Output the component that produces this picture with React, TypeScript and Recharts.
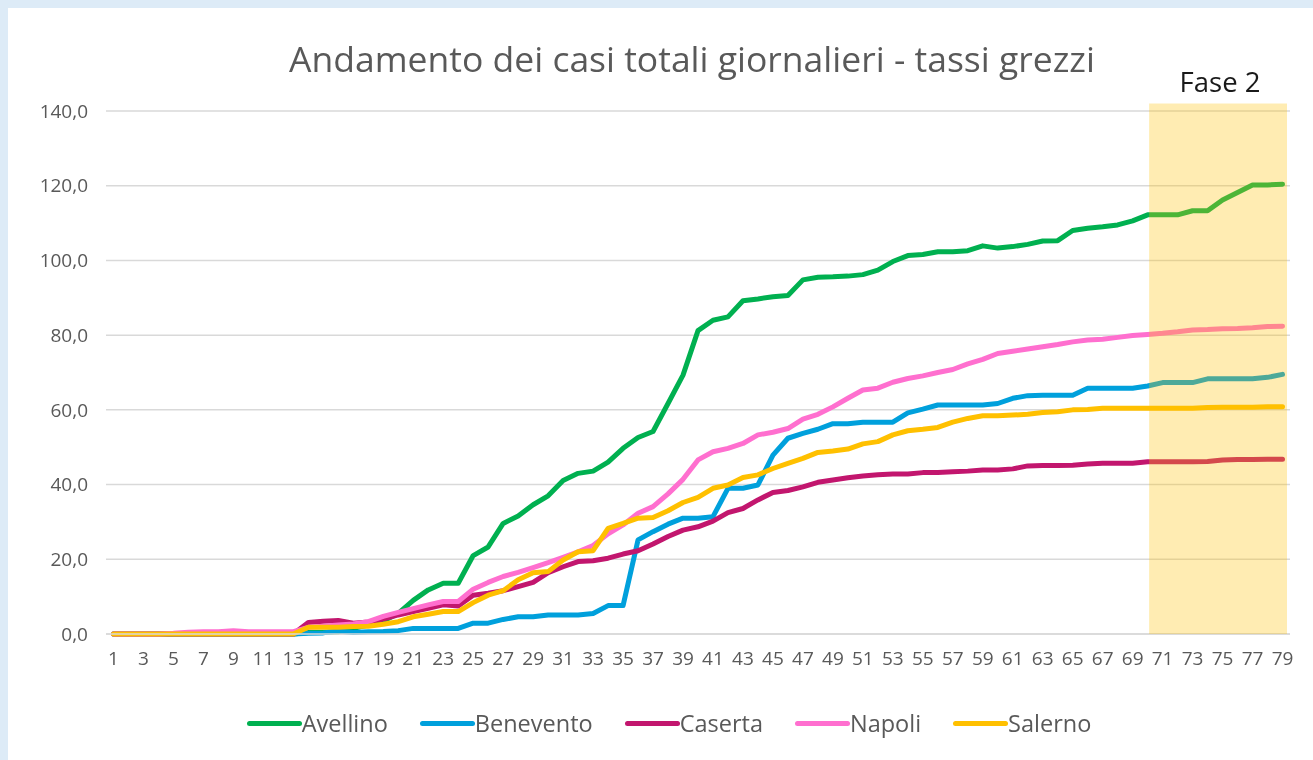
import React from 'react';
import { LineChart, Line, XAxis, YAxis, CartesianGrid, Legend, ReferenceArea } from 'recharts';

const days = [
    1, 2, 3, 4, 5, 6, 7, 8, 9, 10, 11, 12, 13, 14, 15, 16, 17, 18, 19, 20,
    21, 22, 23, 24, 25, 26, 27, 28, 29, 30, 31, 32, 33, 34, 35, 36, 37, 38, 39, 40,
    41, 42, 43, 44, 45, 46, 47, 48, 49, 50, 51, 52, 53, 54, 55, 56, 57, 58, 59, 60,
    61, 62, 63, 64, 65, 66, 67, 68, 69, 70, 71, 72, 73, 74, 75, 76, 77, 78, 79
];

const xTicks = [1, 3, 5, 7, 9, 11, 13, 15, 17, 19, 21, 23, 25, 27, 29, 31, 33, 35, 37, 39,
    41, 43, 45, 47, 49, 51, 53, 55, 57, 59, 61, 63, 65, 67, 69, 71, 73, 75, 77, 79];
const yTicks = [0, 20, 40, 60, 80, 100, 120, 140];

const avellino = [
    0, 0, 0, 0, 0, 0, 0, 0, 0, 0, 0, 0, 0, 0.4, 0.5, 0.6, 1.5, 2.4, 3.5, 5.5,
    9.0, 11.8, 13.6, 13.6, 21.0, 23.3, 29.6, 31.6, 34.6, 37.0, 41.1, 43.0, 43.6, 46.0, 49.7, 52.6, 54.2, 61.7, 69.3, 81.2,
    84.0, 84.9, 89.2, 89.7, 90.3, 90.6, 94.8, 95.5, 95.6, 95.8, 96.2, 97.4, 99.7, 101.3, 101.6, 102.3, 102.3, 102.6, 103.9, 103.3,
    103.7, 104.3, 105.2, 105.3, 108.0, 108.6, 109.0, 109.5, 110.6, 112.2, 112.2, 112.2, 113.3, 113.3, 116.2, 118.2, 120.2, 120.2, 120.4
];

const benevento = [
    0, 0, 0, 0, 0, 0, 0, 0, 0, 0, 0, 0, 0, 0.2, 0.3, 0.8, 0.4, 0.6, 0.7, 0.9,
    1.5, 1.5, 1.5, 1.5, 2.9, 2.9, 3.9, 4.6, 4.6, 5.1, 5.1, 5.1, 5.5, 7.6, 7.6, 25.2, 27.4, 29.4, 31.0, 31.0,
    31.4, 39.0, 39.0, 39.9, 47.9, 52.4, 53.7, 54.8, 56.3, 56.3, 56.7, 56.7, 56.7, 59.2, 60.2, 61.3, 61.3, 61.3, 61.3, 61.7,
    63.1, 63.8, 63.9, 63.9, 63.9, 65.8, 65.8, 65.8, 65.8, 66.4, 67.3, 67.3, 67.3, 68.3, 68.3, 68.3, 68.3, 68.7, 69.5
];

const caserta = [
    0, 0, 0, 0, 0, 0, 0, 0, 0, 0, 0, 0, 0, 3.1, 3.4, 3.6, 2.9, 3.2, 4.0, 5.1,
    6.0, 6.9, 7.8, 7.5, 10.4, 10.9, 11.6, 12.7, 13.8, 16.4, 18.0, 19.4, 19.6, 20.3, 21.4, 22.3, 24.1, 26.1, 27.8, 28.7,
    30.2, 32.5, 33.6, 35.9, 37.9, 38.4, 39.4, 40.6, 41.2, 41.8, 42.3, 42.6, 42.8, 42.8, 43.2, 43.2, 43.4, 43.6, 43.9, 43.9,
    44.2, 45.0, 45.1, 45.1, 45.2, 45.5, 45.7, 45.7, 45.7, 46.1, 46.1, 46.1, 46.1, 46.2, 46.6, 46.7, 46.7, 46.8, 46.8
];

const napoli = [
    0, 0, 0, 0, 0.2, 0.5, 0.6, 0.6, 0.9, 0.6, 0.6, 0.6, 0.6, 1.8, 2.1, 2.4, 2.7, 3.3, 4.7, 5.8,
    6.8, 7.8, 8.7, 8.7, 12.0, 13.8, 15.4, 16.5, 17.8, 19.1, 20.5, 22.0, 23.7, 26.8, 29.2, 32.3, 34.1, 37.5, 41.4, 46.6,
    48.8, 49.7, 51.0, 53.3, 54.0, 55.0, 57.5, 58.8, 60.8, 63.1, 65.3, 65.8, 67.4, 68.4, 69.1, 70.0, 70.8, 72.3, 73.5, 75.1,
    75.7, 76.3, 76.9, 77.5, 78.2, 78.7, 78.9, 79.4, 79.9, 80.2, 80.5, 80.9, 81.4, 81.5, 81.7, 81.8, 82.0, 82.3, 82.4
];

const salerno = [
    0, 0, 0, 0, 0, 0, 0, 0, 0, 0, 0, 0, 0, 1.8, 1.8, 1.8, 2.0, 2.1, 2.6, 3.3,
    4.6, 5.3, 6.0, 6.0, 8.4, 10.4, 11.6, 14.5, 16.4, 16.7, 19.8, 22.0, 22.3, 28.3, 29.6, 31.0, 31.2, 33.0, 35.2, 36.6,
    39.0, 39.9, 41.9, 42.6, 44.3, 45.7, 47.0, 48.6, 49.0, 49.5, 50.9, 51.5, 53.3, 54.4, 54.8, 55.3, 56.7, 57.7, 58.4, 58.4,
    58.6, 58.8, 59.3, 59.5, 60.0, 60.1, 60.4, 60.4, 60.4, 60.4, 60.4, 60.4, 60.4, 60.6, 60.7, 60.7, 60.7, 60.8, 60.8
];

const series = [
    { name: 'Avellino', values: avellino, color: '#00B050' },
    { name: 'Benevento', values: benevento, color: '#00A0DC' },
    { name: 'Caserta', values: caserta, color: '#C2166E' },
    { name: 'Napoli', values: napoli, color: '#FF6FCF' },
    { name: 'Salerno', values: salerno, color: '#FFC000' }
];

const data = days.map((day, i) => {
    const row: Record<string, number> = { day };
    series.forEach(s => { row[s.name] = s.values[i]; });
    return row;
});

const FONT = '"Open Sans", sans-serif';
const TEXT = '#595959';

const formatY = (v: number) => v.toFixed(1).replace('.', ',');

const renderLegend = () => (
    <div style={{ display: 'flex', justifyContent: 'center', fontFamily: FONT, fontSize: 23.5, color: TEXT }}>
        {series.map(s => (
            <div key={s.name} style={{ display: 'flex', alignItems: 'center', margin: '0 16px' }}>
                <span style={{ width: 55, height: 5, borderRadius: 3, background: s.color, display: 'inline-block' }} />
                <span>{s.name}</span>
            </div>
        ))}
    </div>
);

const App = () => (
    <div style={{ position: 'fixed', inset: 0, background: '#DDEBF7' }}>
        <div style={{ position: 'absolute', left: 8, top: 8, width: 1305, height: 752, background: '#fff' }}>
            <div style={{
                position: 'absolute', left: 0, width: 1368, top: 29, textAlign: 'center',
                fontFamily: FONT, fontSize: 35.5, color: TEXT, lineHeight: '42px'
            }}>
                Andamento dei casi totali giornalieri - tassi grezzi
            </div>
            <div style={{
                position: 'absolute', left: 1142, width: 140, top: 56, textAlign: 'center',
                fontFamily: FONT, fontSize: 27.5, color: '#1a1a1a', lineHeight: '36px'
            }}>
                Fase 2
            </div>
            <LineChart width={1305} height={752} data={data}
                margin={{ top: 103, right: 23, left: 0, bottom: 86 }}>
                <CartesianGrid vertical={false} stroke="#D9D9D9" strokeWidth={1.5} />
                <XAxis dataKey="day" type="number" domain={[0.5, 79.5]} ticks={xTicks} interval={0}
                    height={40} tickLine={false} tickSize={0} tickMargin={18}
                    axisLine={{ stroke: '#D9D9D9', strokeWidth: 1.5 }}
                    tick={{ fill: TEXT, fontSize: 19, fontFamily: FONT }} />
                <YAxis domain={[0, 140]} ticks={yTicks} width={98} tickFormatter={formatY}
                    axisLine={false} tickLine={false} tickSize={0} tickMargin={18}
                    tick={{ fill: TEXT, fontSize: 19, fontFamily: FONT }} />
                {series.map(s => (
                    <Line key={s.name} type="linear" dataKey={s.name} stroke={s.color} strokeWidth={5}
                        dot={false} activeDot={false} isAnimationActive={false}
                        strokeLinejoin="round" strokeLinecap="round" />
                ))}
                <ReferenceArea x1={70.1} x2={79.3} y1={0} y2={142} ifOverflow="visible"
                    fill="#FFC000" fillOpacity={0.3} stroke="none" zIndex={1000} />
                <Legend layout="horizontal" verticalAlign="middle" align="center" content={renderLegend}
                    wrapperStyle={{ top: 699, left: 0, width: 1322 }} />
            </LineChart>
        </div>
    </div>
);

export default App;
